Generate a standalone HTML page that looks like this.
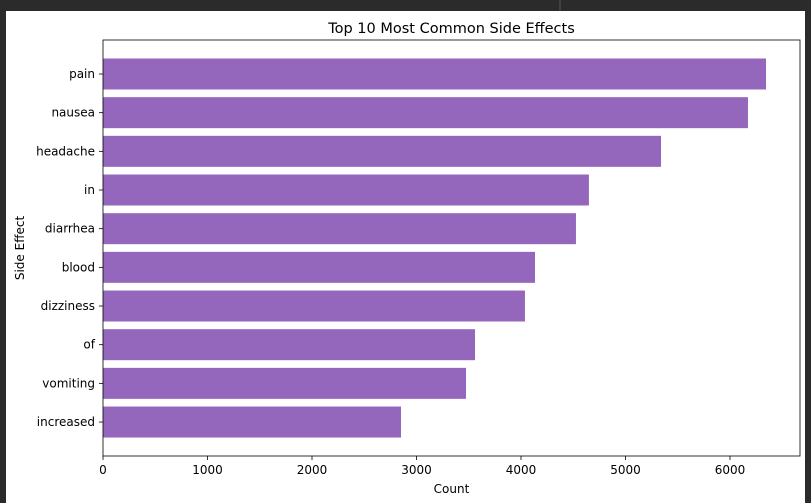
<!DOCTYPE html>
<html><head><meta charset="utf-8"><style>
html,body{margin:0;padding:0;background:#2b2b2b;}
#wrap{position:relative;width:811px;height:503px;background:#2b2b2b;overflow:hidden;}
svg{position:absolute;left:0;top:0;}
text{font-family:"DejaVu Sans","Liberation Sans",sans-serif;fill:#000;}
</style></head><body>
<div id="wrap">
<svg id="chart" width="811" height="503">
<rect x="6" y="11" width="799" height="492" fill="#fff"/>
<line x1="560" y1="0" x2="560" y2="11" stroke="#555"/>
</svg>
</div>
<script>
const categories=["pain","nausea","headache","in","diarrhea","blood","dizziness","of","vomiting","increased"];
const counts=[6345,6172,5340,4650,4526,4134,4038,3560,3474,2852];
const xTicks=[0,1000,2000,3000,4000,5000,6000];
const L=103,R=800,T=40,B=456,XMAX=6670;
const X=v=>L+v/XMAX*(R-L);
const step=(B-T)/(categories.length+0.35);
const Y=i=>T+34+i*38.67;
const svg=document.getElementById('chart');
const NS='http://www.w3.org/2000/svg';
function mk(t,a){const e=document.createElementNS(NS,t);for(const k in a)e.setAttribute(k,a[k]);svg.appendChild(e);return e;}
categories.forEach((c,i)=>{
 const b=mk('rect',{x:X(0),y:Y(i)-15.5,width:X(counts[i])-X(0),height:31,fill:'#9467bd'});
 
 
 const tk=mk('line',{x1:L-4,x2:L,y1:Y(i),y2:Y(i),stroke:'#000','stroke-width':0.8});
 
 
 const t=mk('text',{x:L-8,y:Y(i)+4,'text-anchor':'end','font-size':12});
 t.textContent=c;
 
 
});
xTicks.forEach(v=>{
 const tk=mk('line',{x1:X(v),x2:X(v),y1:B,y2:B+4,stroke:'#000','stroke-width':0.8});
 
 
 const t=mk('text',{x:X(v),y:B+18,'text-anchor':'middle','font-size':12});
 t.textContent=v;
 
 
});
const fr=mk('rect',{x:L,y:T,width:R-L,height:B-T,fill:'none',stroke:'#000','stroke-width':0.8});


const ti=mk('text',{x:(L+R)/2,y:33,'text-anchor':'middle','font-size':14.5});
ti.textContent='Top 10 Most Common Side Effects';


const xl=mk('text',{x:(L+R)/2,y:493,'text-anchor':'middle','font-size':12});
xl.textContent='Count';


const yl=mk('text',{x:0,y:0,'text-anchor':'middle','font-size':12,transform:'translate(24,'+((T+B)/2)+') rotate(-90)'});
yl.textContent='Side Effect';


</script>
</body></html>
